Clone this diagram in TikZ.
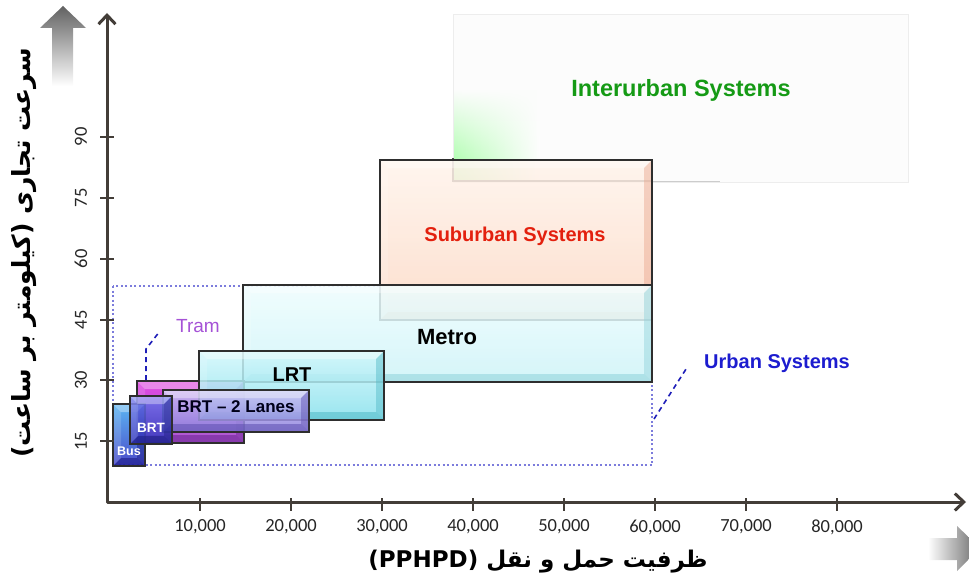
\documentclass[tikz,border=0pt]{standalone}
\usepackage{fontspec}
\setmainfont{Liberation Sans}
\newfontfamily\tickfont{Carlito}
\newfontfamily\arabicfont[Script=Arabic]{DejaVu Sans}
\TeXXeTstate=1
\usetikzlibrary{arrows.meta,fadings}

\definecolor{axiscol}{HTML}{433D38}
\definecolor{edgecol}{HTML}{2E2E2E}
\definecolor{subT}{HTML}{FFF4EC}
\definecolor{subB}{HTML}{FCD8C4}
\definecolor{subE}{HTML}{E9A58C}
\definecolor{metT}{HTML}{EEFDFE}
\definecolor{metB}{HTML}{CDF3F7}
\definecolor{metE}{HTML}{8ED2DA}
\definecolor{lrtT}{HTML}{D2F7FB}
\definecolor{lrtB}{HTML}{86E0EC}
\definecolor{lrtE}{HTML}{4FB8C6}
\definecolor{trmT}{HTML}{DA28DC}
\definecolor{trmB}{HTML}{9A3FC8}
\definecolor{trmE}{HTML}{6A2090}
\definecolor{br2T}{HTML}{C8C2F4}
\definecolor{br2B}{HTML}{8C7EDD}
\definecolor{br2E}{HTML}{5E50B0}
\definecolor{brtT}{HTML}{6C74EC}
\definecolor{brtB}{HTML}{3232B8}
\definecolor{brtE}{HTML}{1E1E80}
\definecolor{busT}{HTML}{3FA8F0}
\definecolor{busB}{HTML}{2A2AC0}
\definecolor{busE}{HTML}{161680}
\definecolor{intG}{HTML}{159A15}
\definecolor{subR}{HTML}{E3200E}
\definecolor{tramC}{HTML}{A552D6}
\definecolor{urbC}{HTML}{1C1CCF}
\definecolor{dotC}{HTML}{7C7CDC}
\definecolor{leadC}{HTML}{1E1EB8}

\tikzfading[name=fadeUp, top color=transparent!100, bottom color=transparent!0]

\tikzset{
  axisline/.style={draw=axiscol, line width=3pt},
  tickline/.style={draw=axiscol, line width=1.5pt},
  ticklab/.style={font=\tickfont\fontsize{18.5}{21}\selectfont, text=black!85, inner sep=0pt},
  boxlab/.style={font=\bfseries\fontsize{20}{24}\selectfont, inner sep=0pt},
  leader/.style={draw=leadC, line width=1.6pt, dash pattern=on 5pt off 4pt},
}

% glass box: x1,y1,x2,y2,top,bottom,edge
\newcommand\gbox[7]{%
  \shade[fill opacity=0.85, top color=#5, bottom color=#6] (#1,#2) rectangle (#3,#4);
  \fill[white, fill opacity=0.35] (#1,#2) -- (#3,#2) -- (#3-8,#2+8) -- (#1+8,#2+8) -- cycle;
  \fill[white, fill opacity=0.15] (#1,#2) -- (#1+8,#2+8) -- (#1+8,#4-8) -- (#1,#4) -- cycle;
  \fill[#7, fill opacity=0.45] (#3,#2) -- (#3,#4) -- (#3-8,#4-8) -- (#3-8,#2+8) -- cycle;
  \fill[#7, fill opacity=0.55] (#1,#4) -- (#3,#4) -- (#3-8,#4-8) -- (#1+8,#4-8) -- cycle;
  \draw[edgecol, line width=1.4pt] (#1,#2) rectangle (#3,#4);
}

\begin{document}
\begin{tikzpicture}[x=1pt, y=-1pt]
\useasboundingbox (0,0) rectangle (969,583);
\clip (0,0) rectangle (969,583);

% big grey arrows
\shade[top color=black!62, bottom color=white]
  (52,86) -- (52,28) -- (40,28) -- (63,6) -- (86,28) -- (73,28) -- (73,86) -- cycle;
\shade[left color=white, right color=black!60]
  (928,538) -- (957,538) -- (957,526) -- (980,548) -- (957,571) -- (957,560) -- (928,560) -- cycle;

% Interurban
\fill[black!1] (453,15) rectangle (908,182);
\draw[black!7, line width=1pt] (453,15) rectangle (908,182);
\shade[left color=green!38, right color=white, path fading=fadeUp] (454,90) rectangle (540,181);
\draw[black!70, line width=1.4pt] (453,158) -- (453,181) -- (652,181);
\draw[black!20, line width=1pt] (652,181) -- (720,181);
\node[boxlab, text=intG, font=\bfseries\fontsize{23.5}{27}\selectfont] (inter) at (681,90) {Interurban Systems};

% Urban dotted frame
\draw[dotC, line width=1.2pt, dash pattern=on 2pt off 2.5pt] (113,286) rectangle (652,465);

% boxes
\gbox{380}{160}{652}{320}{subT}{subB}{subE}
\gbox{243}{285}{652}{382}{metT}{metB}{metE}
\gbox{137}{381}{244}{443}{trmT}{trmB}{trmE}
\gbox{199}{351}{384}{420}{lrtT}{lrtB}{lrtE}
\gbox{163}{390}{309}{432}{br2T}{br2B}{br2E}
\gbox{113}{404}{145}{466}{busT}{busB}{busE}
\gbox{130}{396}{172}{444}{brtT}{brtB}{brtE}

\node[boxlab, text=subR] (sub) at (515,236) {Suburban Systems};
\node[boxlab, text=black, font=\bfseries\fontsize{22}{26}\selectfont] (metro) at (447,337) {Metro};
\node[boxlab, text=black] (lrt) at (292,375) {LRT};
\node[boxlab, text=black!90!blue, font=\bfseries\fontsize{17}{20}\selectfont] (brt2) at (236,407) {BRT – 2 Lanes};
\node[boxlab, text=white, font=\bfseries\fontsize{13.5}{16}\selectfont] (brt) at (151,428) {BRT};
\node[boxlab, text=white, font=\bfseries\fontsize{12.5}{15}\selectfont] (bus) at (129,451) {Bus};

% labels with leaders
\node[inner sep=0pt, text=tramC, font=\fontsize{19}{22}\selectfont] (tram) at (198,326) {Tram};
\coordinate (tramA) at (146,380);
\coordinate (tramB) at (146,349);
\coordinate (tramC) at (160,331);
\draw[leader] (tramA) -- (tramB) -- (tramC);

\node[boxlab, text=urbC] (urban) at (777,363) {Urban Systems};
\coordinate (urbA) at (654,419);
\coordinate (urbB) at (688,366);
\draw[leader] (urbA) -- (urbB);

% axes
\coordinate (O) at (107,502);
\coordinate (Ytip) at (107,13);
\coordinate (Xtip) at (966,502);
\draw[axisline, {Straight Barb[length=9pt,width=17pt]}-{Straight Barb[length=9pt,width=17pt]}, line join=round] (Ytip) -- (O) -- (Xtip);

\foreach \v/\yy in {15/441,30/380,45/320,60/259,75/198,90/137}{
  \draw[tickline] (100,\yy) -- (114,\yy);
  \node[ticklab, rotate=90] (yl\v) at (81,\yy) {\v};
}
\foreach \v/\xx in {10/200,20/291,30/382,40/473,50/564,60/655,70/746,80/837}{
  \draw[tickline] (\xx,498) -- (\xx,511);
  \node[ticklab] (xl\v) at (\xx,527) {\v,000};
}

% axis titles
\node[inner sep=0pt, font=\arabicfont\bfseries\fontsize{23}{28}\selectfont] (xtitle) at (538,562)
  {\beginR ظرفیت حمل و نقل \beginL(PPHPD)\endL\endR};
\node[inner sep=0pt, rotate=90, font=\arabicfont\bfseries\fontsize{25}{29}\selectfont] (ytitle) at (24,253)
  {\beginR سرعت تجاری (کیلومتر بر ساعت)\endR};
\end{tikzpicture}
\end{document}
